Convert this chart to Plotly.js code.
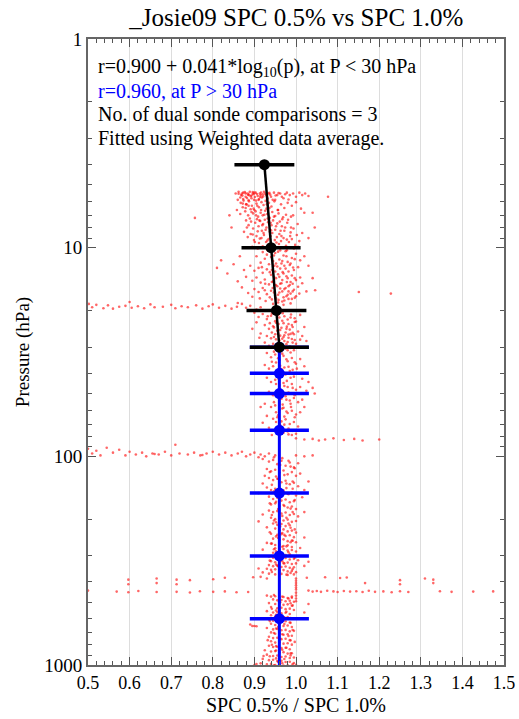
<!DOCTYPE html>
<html>
<head>
<meta charset="utf-8">
<script src="https://cdn.plot.ly/plotly-3.0.1.min.js"></script>
<style>html,body{margin:0;padding:0;background:#fff;}#chart{width:519px;height:719px;}</style>
</head>
<body>
<div id="chart"></div>
<script>
// ---- Fitted averages (P < 30 hPa, black) ----
var blackP = [4, 10, 20, 30];
var blackX = [0.924, 0.940, 0.953, 0.960];
var blackErr = [0.072, 0.071, 0.072, 0.071];

// ---- Fitted averages (P > 30 hPa, blue) ----
var blueP = [30, 40, 50, 75, 150, 300, 600];
var blueX = [0.960, 0.960, 0.960, 0.960, 0.960, 0.960, 0.960];
var blueErr = [0.071, 0.071, 0.071, 0.071, 0.071, 0.071, 0.071];
var blueLineP = [30, 1000];
var blueLineX = [0.960, 0.960];

// ---- Individual ratio samples (x = ratio, p = pressure hPa) ----
var cloudUpper = [[0.855,5.5],[0.862,5.4],[0.868,5.6],[0.873,5.45],[0.879,5.7],[0.884,5.5],[0.889,5.4],[0.893,5.8],[0.898,5.55],[0.903,5.45],[0.908,5.65],[0.913,5.5],[0.918,5.75],[0.923,5.4],[0.928,5.6],[0.934,5.5],[0.94,5.7],[0.947,5.45],[0.955,5.6],[0.962,5.5],[0.97,5.8],[0.978,5.45],[0.985,5.6],[0.993,5.5],[1.0,5.7],[1.008,5.45],[1.015,5.6],[1.022,5.5],[1.03,5.65],[0.86,5.9],[0.867,6.1],[0.874,5.95],[0.881,6.2],[0.887,6.0],[0.894,6.3],[0.899,5.9],[0.905,6.15],[0.911,6.4],[0.917,6.05],[0.922,6.25],[0.929,6.5],[0.935,6.1],[0.941,6.35],[0.948,6.0],[0.956,6.6],[0.964,6.2],[0.972,6.45],[0.98,6.1],[0.99,6.3],[1.0,6.05],[1.012,6.5],[0.858,6.6],[0.866,6.9],[0.872,6.4],[0.878,6.7],[0.885,7.0],[0.891,6.55],[0.897,6.85],[0.903,6.7],[0.909,7.1],[0.915,6.8],[0.92,7.0],[0.926,6.65],[0.931,6.9],[0.937,7.2],[0.943,6.75],[0.95,7.05],[0.958,6.85],[0.967,7.3],[0.976,6.95],[0.988,7.1],[1.02,6.8],[0.757,7.2],[1.077,5.7],[1.04,6.8],[1.045,8.0],[1.03,9.0],
[0.88,7.4],[0.886,7.8],[0.892,7.5],[0.897,8.1],[0.902,7.6],[0.906,7.3],[0.91,7.9],[0.914,7.45],[0.918,8.3],[0.921,7.7],[0.925,7.35],[0.929,8.0],[0.933,7.55],[0.937,8.4],[0.941,7.8],[0.945,7.4],[0.95,8.2],[0.955,7.65],[0.96,8.6],[0.966,7.9],[0.972,8.3],[0.979,7.6],[0.986,8.8],[0.994,8.1],[1.004,7.7],[1.015,8.5],[0.875,8.4],[0.884,8.9],[0.891,8.6],[0.899,9.2],[0.905,8.8],[0.911,9.5],[0.917,9.0],[0.923,8.7],[0.928,9.4],[0.934,9.1],[0.939,8.8],[0.944,9.7],[0.949,9.2],[0.954,8.9],[0.959,9.6],[0.964,9.3],[0.97,9.0],[0.976,9.8],[0.983,9.4],[0.99,9.1],[0.998,9.7],[1.008,9.3],[0.895,9.9],[0.908,10.1],[0.92,9.85],[0.946,10.2],[0.962,9.95],[0.978,10.3],[0.995,10.1],[1.005,9.9],[0.84,7.0],[0.845,8.0],[0.88,6.2],[0.9,6.6],[0.91,5.9],[0.93,6.2],[0.95,5.9],[0.87,5.5],[0.885,5.6],[0.896,5.5],[0.92,5.55],[0.9,5.45],[0.915,5.6],
[0.862,5.52],[0.871,5.63],[0.877,5.42],[0.882,5.78],[0.887,5.58],[0.891,5.67],[0.896,5.41],[0.901,5.72],[0.906,5.53],[0.911,5.85],[0.916,5.44],[0.921,5.68],[0.926,5.51],[0.932,5.82],[0.938,5.57],[0.944,5.9],[0.951,5.62],[0.958,5.47],[0.966,5.7],[0.974,5.55],[0.982,5.88],[0.866,5.75],[0.873,5.85],[0.879,5.5],[0.886,5.92],[0.893,5.62],[0.904,5.95],[0.914,5.71],[0.927,5.97],[0.936,5.46],
[0.872,6.15],[0.879,6.45],[0.886,6.3],[0.893,6.75],[0.898,6.5],[0.904,7.0],[0.907,6.3],[0.912,7.4],[0.916,6.6],[0.919,7.8],[0.924,6.95],[0.927,8.2],[0.932,7.25],[0.936,6.45],[0.939,7.6],[0.943,8.5],[0.947,7.1],[0.952,7.9],[0.957,6.6],[0.961,7.5],[0.965,8.8],[0.969,7.15],[0.974,8.0],[0.981,7.35],[0.987,8.45],[0.993,7.0],[1.002,8.7],[0.882,8.0],[0.889,7.25],[0.896,8.65],[0.901,9.4],[0.908,8.35],[0.913,9.05],[0.922,8.5],[0.931,9.25],[0.94,8.25],[0.953,9.45],[0.963,8.3],[0.978,9.15],[0.988,8.0]];

var cloudMid = [[0.92,10.5],[0.93,10.8],[0.94,11.1],[0.95,10.6],[0.96,11.4],[0.97,10.9],[0.98,11.7],[0.99,11.2],[1.0,10.7],[1.01,11.5],[0.905,11.0],[0.915,11.8],[0.925,11.3],[0.935,12.0],[0.945,11.6],[0.955,12.3],[0.965,11.9],[0.975,12.6],[0.985,12.1],[0.995,12.8],[1.005,12.4],[0.89,12.2],[0.9,12.9],[0.91,12.5],[0.92,13.2],[0.93,12.7],[0.94,13.5],[0.95,13.0],[0.96,13.8],[0.97,13.3],[0.98,14.0],[0.99,13.6],[1.0,14.3],[1.01,13.9],[0.88,13.8],[0.895,14.4],[0.905,13.9],[0.915,14.7],[0.925,14.2],[0.935,15.0],[0.945,14.5],[0.955,15.3],[0.965,14.8],[0.975,15.6],[0.985,15.1],[0.995,15.9],[1.005,15.4],[0.9,15.8],[0.91,16.3],[0.92,15.6],[0.93,16.7],[0.94,16.1],[0.95,17.0],[0.96,16.4],[0.97,17.3],[0.98,16.8],[0.99,17.6],[1.0,17.1],[0.913,17.5],[0.927,18.0],[0.942,17.7],[0.957,18.3],[0.972,17.9],[0.987,18.5],[0.81,12.5],[0.82,11.5],[0.835,13.3],[0.85,12.0],[0.86,14.5],[0.865,11.0],[0.87,15.5],[0.875,12.8],[0.885,16.5],[0.895,17.2],[1.02,11.0],[1.015,14.8],[1.025,16.2],[1.03,12.2],[1.046,16.0],[1.04,14.0],[0.938,10.4],[0.962,10.3],[0.948,12.2],[0.968,13.1],[0.952,14.0],[0.978,14.6],[0.944,15.6],[0.962,15.7],[0.982,16.2],[0.958,17.8],[0.992,14.9],[0.926,14.9],[0.975,10.4],[0.942,12.8],[1.151,16.3],[1.228,16.6],
[0.932,10.3],[0.947,10.9],[0.957,10.45],[0.967,11.6],[0.977,11.0],[0.987,11.9],[0.997,11.35],[0.952,11.9],[0.962,12.6],[0.972,12.2],[0.982,13.0],[0.993,12.45],[0.937,13.1],[0.947,13.8],[0.957,13.4],[0.967,14.3],[0.977,13.7],[0.987,14.6],[0.997,14.0],[0.942,14.6],[0.952,15.1],[0.962,14.9],[0.972,15.8],[0.982,15.3],[0.992,16.2],[0.947,16.4],[0.957,16.8],[0.967,16.2],[0.977,17.1],[0.987,16.6],[0.997,17.4],[0.937,17.3],[0.952,17.5],[0.967,18.1],[0.982,17.6],[0.945,18.6],[0.97,18.8],[0.925,16.0],[0.918,12.4],[1.008,16.6]];

var streak19 = [[0.502,18.6],[0.51,19.3],[0.52,18.8],[0.537,19.5],[0.548,18.9],[0.56,19.6],[0.575,19.2],[0.59,19.0],[0.6,18.2],[0.605,19.4],[0.62,19.1],[0.635,19.5],[0.65,18.7],[0.66,19.3],[0.68,19.2],[0.7,18.8],[0.71,19.5],[0.725,19.1],[0.74,19.3],[0.76,18.9],[0.775,19.6],[0.79,19.1],[0.8,18.7],[0.815,19.4],[0.83,19.0],[0.845,19.6],[0.858,19.2],[0.87,18.6],[0.88,19.4],[0.89,19.0],[0.905,19.8],[0.915,19.3],[0.86,18.4]];

var cloud20to80 = [[0.9,20.5],[0.91,21.5],[0.92,20.8],[0.93,22.0],[0.94,21.2],[0.95,22.5],[0.96,21.6],[0.97,23.0],[0.98,22.1],[0.99,23.5],[1.0,22.6],[1.01,21.0],[1.02,24.0],[0.925,23.5],[0.935,24.5],[0.945,23.8],[0.955,25.0],[0.965,24.2],[0.975,25.5],[0.985,24.7],[0.995,26.0],[1.005,25.2],[0.915,25.8],[0.93,26.5],[0.94,27.2],[0.95,26.0],[0.96,27.8],[0.97,26.8],[0.98,28.3],[0.99,27.4],[1.0,28.9],[1.01,27.6],[0.925,28.5],[0.935,29.5],[0.945,28.9],[0.955,30.0],[0.965,29.2],[0.975,30.5],[0.985,29.7],[0.995,31.0],[0.905,22.8],[0.895,24.5],[0.912,27.0],[0.948,20.3],[0.968,20.6],[0.988,20.9],[0.958,23.2],[0.978,23.9],[0.992,25.6],[0.952,27.5],[0.972,28.0],[1.015,26.5],[1.025,28.0],[0.942,25.5],[0.962,26.4],[0.982,26.1],[0.932,21.3],[0.997,21.8],[0.962,29.8],
[0.942,20.7],[0.957,21.0],[0.972,21.3],[0.987,21.6],[0.952,22.9],[0.967,22.4],[0.982,23.2],[0.997,22.7],[0.947,24.1],[0.962,24.8],[0.977,24.5],[0.992,24.0],[0.957,25.8],[0.972,26.3],[0.987,25.9],[0.947,26.8],[0.967,27.3],[0.982,27.0],[0.997,27.7],[0.957,28.7],[0.977,29.0],[0.992,28.5],[0.942,29.9],[0.987,30.2],[0.937,23.0],
[0.93,32],[0.94,33.5],[0.95,32.5],[0.96,34.5],[0.97,33],[0.98,35],[0.99,33.8],[1.0,36],[1.01,34.2],[1.02,37],[0.925,36.5],[0.935,38],[0.945,37],[0.955,39.5],[0.965,38.2],[0.975,40.5],[0.985,39],[0.995,41.5],[1.005,40],[1.015,42.5],[1.03,44],[0.93,42],[0.94,44],[0.95,43],[0.96,45.5],[0.97,44.5],[0.98,46.5],[0.99,45],[1.0,48],[1.01,46.5],[1.025,48.5],[1.04,47],[0.935,49],[0.945,51],[0.955,50],[0.965,53],[0.975,51.5],[0.985,54],[0.995,52.5],[1.005,55],[1.015,53.5],[0.925,56],[0.94,58],[0.95,57],[0.96,60],[0.97,58.5],[0.98,62],[0.99,60.5],[1.0,63],[1.01,61.5],[0.93,64],[0.945,66],[0.955,65],[0.965,68],[0.975,66.5],[0.985,70],[0.995,68.5],[1.005,72],[0.935,73],[0.95,75],[0.96,74],[0.97,77],[0.98,76],[0.99,79],[1.0,78],[0.92,69],[0.915,58],[0.952,35.5],[0.972,37.5],[0.992,38.5],[0.958,42.5],[0.978,43.5],[0.962,48.5],[0.982,49.5],[0.968,56.5],[0.988,58],[0.952,61.5],[0.972,64.5],[0.962,71],[0.982,73.5],[0.942,79],[1.02,58],[1.045,50],[0.98,31],
[0.947,31.5],[0.967,32.2],[0.987,31.8],[0.957,33.9],[0.977,34.3],[0.997,35.4],[0.942,35.2],[0.962,36.8],[0.982,37.2],[1.002,38.0],[0.947,40.0],[0.967,41.2],[0.987,42.0],[0.952,45.0],[0.972,46.0],[0.992,47.0],[0.957,52.0],[0.977,53.5],[0.997,51.0],[0.947,55.0],[0.967,59.0],[0.987,56.0],[0.957,63.5],[0.977,61.0],[0.997,65.0],[0.952,68.5],[0.972,70.5],[0.992,75.5],[0.962,77.5],[0.982,78.5]];

var streak85 = [[1.0,82],[1.02,83],[1.04,82.5],[1.055,84],[1.07,83],[1.09,82],[1.115,83.5],[1.14,82.5],[1.16,84],[1.2,83]];

var streak100 = [[0.5,92],[0.51,97],[0.52,94],[0.53,99],[0.545,91],[0.56,96],[0.575,93],[0.59,99],[0.6,95],[0.615,98],[0.63,96],[0.64,100],[0.655,97],[0.67,98],[0.685,95],[0.7,99],[0.71,88],[0.72,97],[0.74,98],[0.755,96],[0.77,99],[0.785,97],[0.8,95],[0.815,98],[0.83,96],[0.845,99],[0.86,97],[0.87,95],[0.88,100],[0.89,98],[0.9,96],[0.91,101],[0.915,98],[0.925,100],[0.935,97],[0.95,99],[1.0,99],[1.02,100],[1.04,99],[0.66,97.5],[0.775,98.5]];

var cloud100to380 = [[0.92,103],[0.935,106],[0.945,104],[0.955,109],[0.965,105],[0.975,111],[0.985,107],[0.995,113],[1.005,108],[0.93,115],[0.94,118],[0.95,116],[0.96,120],[0.97,117],[0.98,122],[0.99,119],[1.0,124],[1.01,121],[0.925,124],
[0.935,127],[0.945,130],[0.955,128],[0.965,133],[0.975,131],[0.985,136],[0.995,134],[1.005,139],[0.93,141],[0.94,145],[0.95,143],[0.96,148],[0.97,146],[0.98,151],[0.99,149],[1.0,154],[1.015,157],[0.935,156],[0.945,160],[0.955,158],[0.92,135],[0.91,150],[1.02,145],[1.03,132],
[0.965,163],[0.975,161],[0.985,166],[0.995,164],[0.94,170],[0.95,168],[0.96,173],[0.97,171],[0.98,176],[0.99,174],[1.0,179],[0.935,182],[0.945,185],[0.955,183],[0.965,188],[0.975,186],[0.985,191],[0.995,189],[1.005,194],[0.94,197],[0.95,200],[0.96,198],[0.97,203],[0.98,201],[0.99,206],[1.0,204],[0.945,210],[0.955,213],[0.965,211],[0.975,216],[0.985,214],[0.93,219],[0.92,190],[1.02,185],[0.91,205],
[0.95,222],[0.96,226],[0.97,224],[0.98,229],[0.99,227],[1.0,232],[0.94,235],[0.955,238],[0.965,236],[0.975,241],[0.985,239],[0.995,244],[0.945,248],[0.96,252],[0.97,250],[0.98,255],[0.99,253],[1.0,258],[0.94,262],[0.95,266],[0.96,264],[0.97,269],[0.98,267],[0.99,272],[0.95,276],[0.96,280],[0.97,278],[0.98,283],[0.99,281],[1.0,286],[0.945,290],[0.955,294],[0.965,292],[0.975,297],[0.985,295],[0.93,260],[1.02,245],[1.01,275],[0.92,280],
[0.935,302],[0.945,306],[0.955,304],[0.965,309],[0.975,307],[0.985,312],[0.995,310],[1.005,315],[0.94,318],[0.95,322],[0.96,320],[0.97,325],[0.98,323],[0.99,328],[1.0,326],[0.935,332],[0.945,336],[0.955,334],[0.965,339],[0.975,337],[0.985,342],[0.995,340],[0.93,346],[0.94,350],[0.95,348],[0.96,353],[0.97,351],[0.98,356],[0.99,354],[1.0,359],[0.92,360],[0.935,365],[0.95,368],[0.965,366],[0.98,370],[0.995,368],[0.91,345],[1.02,335],[1.03,320],
[0.947,101],[0.982,105],[0.962,110],[0.997,114],[0.937,119],[0.972,123],[0.957,128],[0.992,132],[0.942,137],[0.977,142],[0.947,147],[0.982,152],[0.962,157],[0.997,162],[0.937,168],[0.972,173],[0.957,179],[0.992,185],[0.942,191],[0.977,197],[0.947,203],[0.982,210],[0.962,217],[0.997,224],[0.937,231],[0.972,238],[0.957,246],[0.992,254],[0.942,262],[0.977,270],[0.947,279],[0.982,288],[0.962,297],[0.997,306],[0.937,316],[0.972,326],[0.957,336],[0.992,347],[0.942,358],[0.977,369],
[0.967,102],[0.987,112],[0.952,125],[0.977,135],[0.992,143],[0.967,155],[0.952,165],[0.987,178],[0.967,193],[0.952,207],[0.987,220],[0.967,233],[0.952,242],[0.987,258],[0.967,271],[0.952,285],[0.987,300],[0.967,318],[0.952,330],[0.987,362]];

var streak400 = [[0.5,440],[0.569,445],[0.597,390],[0.597,410],[0.597,448],[0.621,442],[0.665,385],[0.665,405],[0.665,447],[0.713,390],[0.713,410],[0.713,446],[0.745,392],[0.745,449],[0.769,443],[0.801,388],[0.801,446],[0.829,382],[0.829,444],[0.857,448],[0.885,447],[0.897,380],[0.915,378],[0.93,385],[1.03,440],[1.04,445],[1.05,442],[1.06,446],[1.075,441],[1.09,444],[1.1,447],[1.115,442],[1.13,445],[1.145,443],[1.16,447],[1.175,441],[1.19,446],[1.21,444],[1.23,448],[1.25,443],[1.27,447],[1.346,443],[1.374,446],[1.426,445],[1.474,444],[1.026,382],[1.07,380],[1.106,383],[1.122,381],[1.166,405],[1.25,392],[1.25,410],[1.31,385],[1.33,390],[1.33,405],
[1.0,385],[1.0,395],[1.0,405],[1.0,415],[1.0,425],[1.0,435],[1.0,450],[1.0,465],[1.0,480],[1.0,495]];

var cloudLow = [[0.93,465],[0.94,470],[0.95,468],[0.96,475],[0.97,472],[0.98,478],[0.99,476],[0.945,485],[0.955,490],[0.965,488],[0.975,495],[0.985,492],[0.995,498],[0.935,505],[0.95,510],[0.96,508],[0.97,515],[0.98,512],[0.99,520],[0.94,528],[0.955,535],[0.965,532],[0.975,540],[0.985,537],[0.995,545],[0.93,552],[0.945,560],[0.955,557],[0.965,565],[0.975,562],[0.985,570],[0.94,578],[0.95,586],[0.96,583],[0.97,592],[0.98,589],[0.99,598],[0.935,605],[0.945,614],[0.955,611],[0.965,620],[0.975,617],[0.985,626],[0.94,634],[0.95,643],[0.96,640],[0.97,650],[0.98,647],[0.99,657],[0.93,665],[0.945,675],[0.955,672],[0.965,682],[0.975,679],[0.985,690],[0.995,686],[0.94,698],[0.95,708],[0.96,705],[0.97,716],[0.98,712],[0.99,724],[0.935,732],[0.945,743],[0.955,740],[0.965,752],[0.975,748],[0.985,760],[0.94,770],[0.95,781],[0.96,778],[0.97,790],[0.98,786],[0.99,799],[0.935,808],[0.945,820],[0.955,817],[0.965,830],[0.975,826],[0.985,840],[0.925,850],[0.94,862],[0.95,858],[0.96,872],[0.97,868],[0.98,882],[0.99,878],[0.93,892],[0.945,905],[0.955,901],[0.965,915],[0.975,911],[0.985,925],[0.995,920],[0.92,935],[0.935,948],[0.945,944],[0.955,958],[0.965,954],[0.975,968],[0.985,964],[0.995,978],[0.915,982],[0.93,992],[0.94,988],[0.95,1000],[0.96,996],[0.97,1005],[0.98,1002],[0.99,1008],[1.0,998],[0.905,990],[0.9,650],[0.89,640],[1.01,600],[1.02,560],[1.03,510],[0.99,470],[0.9,1000],[0.895,650],[0.905,652],
[0.947,462],[0.982,480],[0.962,500],[0.992,518],[0.942,538],[0.977,556],[0.952,575],[0.987,595],[0.937,616],[0.972,636],[0.957,658],[0.992,680],[0.947,702],[0.982,726],[0.962,750],[0.997,775],[0.942,800],[0.977,826],[0.952,852],[0.987,880],[0.937,908],[0.972,936],[0.957,965],[0.992,990],[0.947,1003],[0.967,470],[0.987,506],[0.952,548],[0.972,590],[0.987,628],[0.952,668],[0.967,712],[0.987,762],[0.952,812],[0.967,845],[0.987,900],[0.952,930],[0.967,980],[0.922,905],[0.932,760]];

// ---- Text ----
var titleText = "_Josie09 SPC 0.5% vs SPC 1.0%";
var xTitle = "SPC 0.5% / SPC 1.0%";
var yTitle = "Pressure (hPa)";
var noteLines = ["r=0.900 + 0.041*log<sub>10</sub>(p), at P &lt; 30 hPa", "r=0.960, at P &gt; 30 hPa", "No. of dual sonde comparisons = 3", "Fitted using Weighted data average."];
var noteColors = ["#000000", "#0000ff", "#000000", "#000000"];
var xTickVals = [0.5,0.6,0.7,0.8,0.9,1.0,1.1,1.2,1.3,1.4,1.5];
var yTickVals = [1, 10, 100, 1000];
var yTickText = ['1', '10', '100', '1000'];
var yMinorVals = [2,3,4,5,6,7,8,9,20,30,40,50,60,70,80,90,200,300,400,500,600,700,800,900];

var cloud = [].concat(cloudUpper, cloudMid, streak19, cloud20to80, streak85, streak100, cloud100to380, streak400, cloudLow);
var cloudX = cloud.map(function(d){return d[0];});
var cloudP = cloud.map(function(d){return d[1];});

var FONT = "'Liberation Serif','DejaVu Serif','Times New Roman',serif";

var traces = [
  {x: cloudX, y: cloudP, mode: 'markers', type: 'scatter', hoverinfo: 'skip',
   marker: {color: 'rgba(255,0,0,0.6)', size: 2.6, line: {width: 0}}},
  {x: blueLineX, y: blueLineP, mode: 'lines', type: 'scatter', line: {color: '#0000ff', width: 3}},
  {x: blueX, y: blueP, mode: 'markers', type: 'scatter',
   marker: {color: '#0000ff', size: 11},
   error_x: {type: 'data', array: blueErr, visible: true, color: '#0000ff', thickness: 3.5, width: 0}},
  {x: blackX, y: blackP, mode: 'lines+markers', type: 'scatter',
   line: {color: '#000000', width: 2.5},
   marker: {color: '#000000', size: 11},
   error_x: {type: 'data', array: blackErr, visible: true, color: '#000000', thickness: 3.5, width: 0}}
];

var annotations = noteLines.map(function(t, i){
  return {xref: 'paper', yref: 'paper', x: 0.02, y: 0.954 - i*0.0375, xanchor: 'left', yanchor: 'middle',
          text: t, showarrow: false, font: {family: FONT, size: 20, color: noteColors[i]}};
});

var layout = {
  width: 519, height: 719,
  margin: {l: 88, r: 15, t: 39, b: 54},
  paper_bgcolor: '#ffffff', plot_bgcolor: '#ffffff',
  showlegend: false,
  font: {family: FONT, color: '#000000'},
  title: {text: titleText, x: 0.571, xanchor: 'center', y: 0.976, yanchor: 'middle', font: {family: FONT, size: 25, color: '#000'}},
  xaxis: {
    range: [0.5, 1.5], tickvals: xTickVals, tickformat: '.1f',
    ticks: 'inside', ticklen: 8, tickwidth: 1, tickcolor: '#555',
    showline: true, linecolor: '#666', linewidth: 2, mirror: 'allticks',
    showgrid: true, gridcolor: '#dddddd', gridwidth: 1, zeroline: false,
    tickfont: {family: FONT, size: 18, color: '#000'},
    minor: {dtick: 0.02, ticks: 'inside', ticklen: 4, tickcolor: '#555', showgrid: false},
    title: {text: xTitle, font: {family: FONT, size: 20, color: '#000'}, standoff: 6}
  },
  yaxis: {
    type: 'log', range: [3.0, 0], tickvals: yTickVals, ticktext: yTickText,
    ticks: 'inside', ticklen: 8, tickwidth: 1, tickcolor: '#555',
    showline: true, linecolor: '#666', linewidth: 2, mirror: 'allticks',
    showgrid: false, zeroline: false,
    tickfont: {family: FONT, size: 19, color: '#000'},
    minor: {tickmode: 'array', tickvals: yMinorVals, ticks: 'inside', ticklen: 4, tickcolor: '#555', showgrid: false},
    title: {text: yTitle, font: {family: FONT, size: 19, color: '#000'}, standoff: 10}
  },
  annotations: annotations
};

Plotly.newPlot('chart', traces, layout, {displayModeBar: false, staticPlot: true});
</script>
</body>
</html>
